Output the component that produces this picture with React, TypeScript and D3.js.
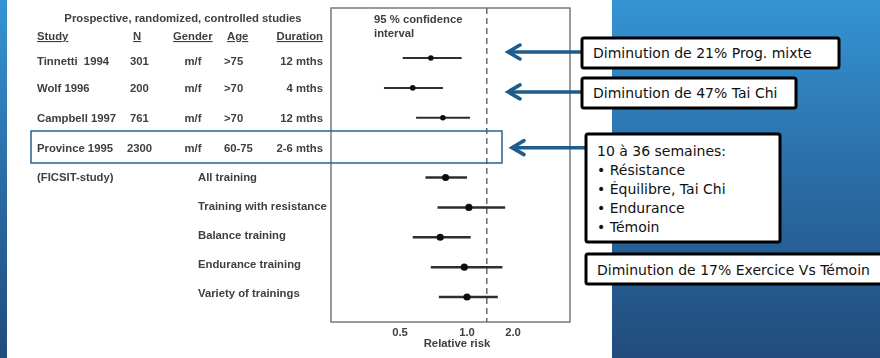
import React from 'react';
import * as d3 from 'd3';

// table rows (prospective studies)
const studies = ['Tinnetti  1994', 'Wolf 1996', 'Campbell 1997', 'Province 1995'];
const nValues = ['301', '200', '761', '2300'];
const genders = ['m/f', 'm/f', 'm/f', 'm/f'];
const ages = ['>75', '>70', '>70', '60-75'];
const durations = ['12 mths', '4 mths', '12 mths', '2-6 mths'];

// FICSIT sub-groups
const ficsitGroups = ['All training', 'Training with resistance', 'Balance training', 'Endurance training', 'Variety of trainings'];

// forest plot rows: relative risk and 95% CI (null = no estimate drawn)
const rowIds = ['Tinnetti', 'Wolf', 'Campbell', 'Province', 'All', 'Resistance', 'Balance', 'Endurance', 'Variety'];
const rrPoint = [0.73, 0.595, 0.82, null, 0.84, 1.04, 0.8, 0.98, 1.0];
const rrLow = [0.52, 0.38, 0.62, null, 0.69, 0.78, 0.595, 0.73, 0.79];
const rrHigh = [0.96, 0.82, 1.065, null, 1.0, 1.83, 1.08, 1.77, 1.67];
const xTicks = [0.5, 1.0, 2.0];
const refValue = 1.43;

// annotations on the right
const note1 = 'Diminution de 21% Prog.  mixte';
const note2 = 'Diminution de 47% Tai Chi';
const note3Lines = ['10 à 36 semaines:', '• Résistance', '• Équilibre, Tai Chi', '• Endurance', '• Témoin'];
const note4 = 'Diminution de 17% Exercice Vs Témoin';

const W = 880;
const H = 358;

const App = () => {
  // piecewise scale, the scanned axis is not evenly spaced
  const x = d3.scaleLinear().domain([0.5, 1, 2]).range([400, 467, 513]);
  const y = d3.scalePoint().domain(rowIds).range([58, 297]);
  const yLabel = d3.scalePoint().domain(ficsitGroups).range([181, 297]);

  const box = { left: 331, right: 570, top: 8, bottom: 322 };
  const ink = '#404040';
  const scanFont = "'Liberation Sans', Arial, sans-serif";
  const noteFont = "'DejaVu Sans', Verdana, sans-serif";
  const arrowColor = '#1c5d8b';

  const arrow = (x1: number, x2: number, yy: number) => (
    <g stroke={arrowColor} strokeWidth={3.5} fill="none" strokeLinecap="round">
      <line x1={x1} y1={yy} x2={x2 + 2} y2={yy} />
      <polyline points={`${x2 + 12},${yy - 7} ${x2},${yy} ${x2 + 12},${yy + 7}`} strokeLinejoin="miter" />
    </g>
  );

  return (
    <div style={{ position: 'absolute', left: 0, top: 0 }}>
      <svg width={W} height={H} style={{ display: 'block' }}>
        <defs>
          <linearGradient id="bg" x1="0" y1="0" x2="0" y2="1">
            <stop offset="0%" stopColor="#3594d3" />
            <stop offset="50%" stopColor="#2a6ca6" />
            <stop offset="100%" stopColor="#214c7c" />
          </linearGradient>
          <filter id="soft">
            <feGaussianBlur stdDeviation="0.35" />
          </filter>
        </defs>

        <rect x={0} y={0} width={W} height={H} fill="#ffffff" />
        <rect x={0} y={0} width={7} height={H} fill="url(#bg)" />
        <rect x={612} y={0} width={W - 612} height={H} fill="url(#bg)" />

        {/* scanned figure */}
        <g filter="url(#soft)" fontFamily={scanFont} fontWeight="bold" fontSize={11.3} fill={ink}>
          <text x={183} y={22} textAnchor="middle">Prospective, randomized, controlled studies</text>
          <g style={{ textDecoration: 'underline' }}>
            <text x={37} y={40}>Study</text>
            <text x={133} y={40}>N</text>
            <text x={173} y={40}>Gender</text>
            <text x={227} y={40}>Age</text>
            <text x={323} y={40} textAnchor="end">Duration</text>
          </g>
          {studies.map((s, i) => {
            const yy = (y(rowIds[i]) as number) + 4 + (i === 0 ? 3 : 0);
            return (
              <g key={s}>
                <text x={37} y={yy} style={{ whiteSpace: 'pre' }}>{s}</text>
                <text x={i === 3 ? 127 : 130} y={yy}>{nValues[i]}</text>
                <text x={193} y={yy} textAnchor="middle">{genders[i]}</text>
                <text x={224} y={yy}>{ages[i]}</text>
                <text x={323} y={yy} textAnchor="end">{durations[i]}</text>
              </g>
            );
          })}
          <text x={37} y={181}>(FICSIT-study)</text>
          {ficsitGroups.map(g => (
            <text key={g} x={198} y={yLabel(g) as number}>{g}</text>
          ))}

          <rect x={box.left} y={box.top} width={box.right - box.left} height={box.bottom - box.top}
            fill="none" stroke="#7a7a7a" strokeWidth={1.5} />
          <text x={374} y={23}>95 % confidence</text>
          <text x={374} y={37}>interval</text>
          <line x1={x(refValue)} x2={x(refValue)} y1={box.top} y2={box.bottom}
            stroke="#6a6a6a" strokeWidth={1.5} strokeDasharray="6,4" />

          {rowIds.map((id, i) => {
            const p = rrPoint[i];
            if (p == null) return null;
            const big = i > 3;
            const yy = y(id) as number;
            return (
              <g key={id}>
                <line x1={x(rrLow[i] as number)} x2={x(rrHigh[i] as number)} y1={yy} y2={yy}
                  stroke="#2e2e2e" strokeWidth={big ? 2.5 : 2} />
                <circle cx={x(p)} cy={yy} r={big ? 3.6 : 2.8} fill="#111" />
              </g>
            );
          })}

          {xTicks.map(t => (
            <text key={t} x={x(t)} y={336} textAnchor="middle">{t.toFixed(1)}</text>
          ))}
          <text x={457} y={347} textAnchor="middle">Relative risk</text>
        </g>

        {/* highlight around Province */}
        <rect x={31} y={131} width={471} height={32} fill="none" stroke="#2a6290" strokeWidth={1.5} />

        {arrow(582, 508, y('Tinnetti') as number - 6)}
        {arrow(582, 508, y('Wolf') as number + 4)}
        {arrow(586, 512, y('Province') as number)}

        {/* notes */}
        <g fontFamily={noteFont} fontSize={14} fill="#111" style={{ whiteSpace: 'pre' }}>
          <rect x={582} y={38} width={257} height={30} rx={2} fill="#fff" stroke="#000" strokeWidth={3} />
          <text x={593} y={58}>{note1}</text>
          <rect x={582} y={78} width={214} height={30} rx={2} fill="#fff" stroke="#000" strokeWidth={3} />
          <text x={593} y={98}>{note2}</text>
          <rect x={586} y={134} width={194} height={108} rx={2} fill="#fff" stroke="#000" strokeWidth={3} />
          {note3Lines.map((l, i) => (
            <text key={l} x={597} y={156 + i * 19}>{l}</text>
          ))}
          <rect x={586} y={254} width={310} height={30} rx={2} fill="#fff" stroke="#000" strokeWidth={3} />
          <text x={597} y={275}>{note4}</text>
        </g>
      </svg>
    </div>
  );
};

export default App;
